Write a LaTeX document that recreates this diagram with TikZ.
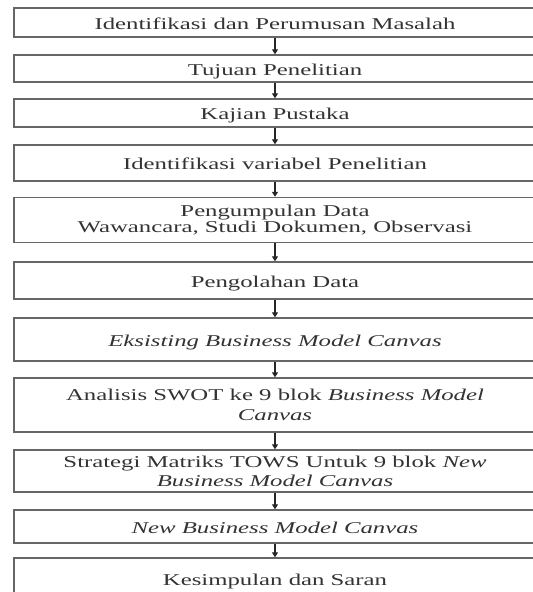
\documentclass[tikz,border=0pt]{standalone}
\usepackage{fontspec}
\setmainfont{Liberation Serif}[FakeStretch=1.5]
\usetikzlibrary{arrows.meta}
\begin{document}
\begin{tikzpicture}[x=1pt,y=-1pt,
  box/.style={draw=black!60, line width=1.4pt, rectangle, minimum width=522pt, inner sep=0pt,
    align=center, text=black!80, font=\fontsize{16.5}{20}\selectfont},
  sbox/.style={box, text height=13pt, text depth=0pt},
  arr/.style={draw=black!85, line width=1.3pt, -{Triangle[length=5pt,width=6pt]}}]
\useasboundingbox (0,0) rectangle (533,592);
\fill[white] (0,0) rectangle (533,592);
\clip (0,0) rectangle (533,592);
\node[sbox, minimum height=29pt] (b1) at (275,22.5) {Identifikasi dan Perumusan Masalah};
\node[sbox, minimum height=27pt] (b2) at (275,68.5) {Tujuan Penelitian};
\node[sbox, minimum height=28pt] (b3) at (275,113) {Kajian Pustaka};
\node[sbox, minimum height=36pt] (b4) at (275,163) {Identifikasi variabel Penelitian};
\node[box, minimum height=45pt, font=\fontsize{16.5}{16}\selectfont] (b5) at (275,220) {Pengumpulan Data\\Wawancara, Studi Dokumen, Observasi};
\node[sbox, minimum height=37pt] (b6) at (275,280.5) {Pengolahan Data};
\node[sbox, minimum height=43pt] (b7) at (275,339.5) {\textit{Eksisting Business Model Canvas}};
\node[box, minimum height=54pt] (b8) at (275,405) {Analisis SWOT ke 9 blok \textit{Business Model}\\\textit{Canvas}};
\node[box, minimum height=42pt, font=\fontsize{16.5}{19}\selectfont] (b9) at (275,471) {Strategi Matriks TOWS Untuk 9 blok \textit{New}\\\textit{Business Model Canvas}};
\node[sbox, minimum height=33pt] (b10) at (275,526.5) {\textit{New Business Model Canvas}};
\node[sbox, minimum height=42pt] (b11) at (275,579) {Kesimpulan dan Saran};
\foreach \a/\b in {b1/b2,b2/b3,b3/b4,b4/b5,b5/b6,b6/b7,b7/b8,b8/b9,b9/b10,b10/b11}
  \draw[arr] (\a.south) -- (\b.north);
\end{tikzpicture}
\end{document}
